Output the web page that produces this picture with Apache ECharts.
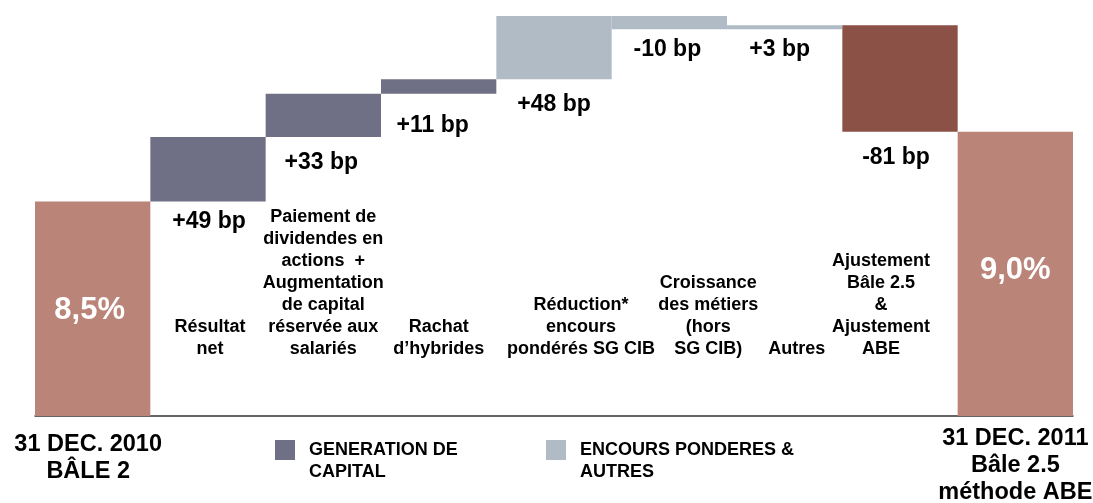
<!DOCTYPE html>
<html><head><meta charset="utf-8">
<script src="https://cdn.jsdelivr.net/npm/echarts@6/dist/echarts.min.js"></script>
<style>html,body{margin:0;padding:0;background:#fff}#c{width:1093px;height:503px}</style>
</head><body><div id="c"></div>
<script>
// ---- data ----
const categories = ['2010', 'resultat', 'dividendes', 'hybrides', 'reduction', 'croissance', 'autres', 'ajustement', '2011'];
const descriptions = ['', 'Résultat\nnet', 'Paiement de\ndividendes en\nactions  +\nAugmentation\nde capital\nréservée aux\nsalariés', 'Rachat\nd’hybrides', 'Réduction*\nencours\npondérés SG CIB', 'Croissance\ndes métiers\n(hors\nSG CIB)', 'Autres', 'Ajustement\nBâle 2.5\n&\nAjustement\nABE', ''];
const periodLabels = ['31 DEC. 2010\nBÂLE 2', '', '', '', '', '', '', '', '31 DEC. 2011\nBâle 2.5\nméthode ABE'];
const startValue = 8.5;                      // %
const deltasBp = [49, 33, 11, 48, -10, 3, -81]; // basis points
const deltaGroups = ['gen', 'gen', 'gen', 'enc', 'enc', 'enc', 'adj'];
const endpointLabels = ['8,5%', '9,0%'];
const legendNames = ['GENERATION DE\nCAPITAL', 'ENCOURS PONDERES &\nAUTRES'];

// ---- styles ----
const FONT = '"Liberation Sans", Arial, Helvetica, sans-serif';
const colors = { end: '#BA8479', gen: '#6F6F85', enc: '#B0BBC5', adj: '#8B5147' };
const bpLabelOffsets = [[1, -5.5], [-2, 0], [-6, 7], [0, 0], [-2, -5], [-5, -5], [-4, 0]];
const descShift = [0, 2, 0, 0, 27, 39, 12, -19, 0];

// ---- build waterfall ----
const cum = [startValue];
deltasBp.forEach(d => cum.push(+(cum[cum.length - 1] + d / 100).toFixed(4)));
const endValue = cum[cum.length - 1];
const n = categories.length;

const baseData = categories.map((c, i) => (i === 0 || i === n - 1) ? '-' : Math.min(cum[i - 1], cum[i]));
const endData = categories.map((c, i) => i === 0 ? startValue : (i === n - 1 ? endValue : '-'));

function groupData(g) {
  return categories.map((c, i) => {
    if (i === 0 || i === n - 1) return '-';
    const k = i - 1;
    if (deltaGroups[k] !== g) return '-';
    return { value: Math.abs(deltasBp[k]) / 100, label: { offset: bpLabelOffsets[k] } };
  });
}

const bpLabel = {
  show: true, position: 'bottom', distance: 14,
  fontFamily: FONT, fontWeight: 'bold', fontSize: 23, color: '#000',
  formatter: p => { const d = deltasBp[p.dataIndex - 1]; return (d > 0 ? '+' : '') + d + ' bp'; }
};

function deltaSeries(name, g) {
  return {
    name: name, type: 'bar', stack: 'w', barWidth: '100%', clip: true,
    itemStyle: { color: colors[g] }, label: bpLabel, data: groupData(g)
  };
}

const legendCommon = {
  orient: 'horizontal', padding: 0, itemWidth: 20, itemHeight: 20, icon: 'rect',
  selectedMode: false, top: 417,
  formatter: name => '\n' + name,
  textStyle: { fontFamily: FONT, fontWeight: 'bold', fontSize: 18, color: '#000', lineHeight: 22, padding: [0, 0, 0, 9] }
};

const option = {
  animation: false,
  backgroundColor: '#fff',
  grid: [
    { left: 35, right: 20, top: 16, bottom: 87, outerBoundsMode: 'none', containLabel: false },
    { left: 35, right: 20, top: 360, bottom: 142, outerBoundsMode: 'none', containLabel: false }
  ],
  legend: [
    Object.assign({}, legendCommon, { left: 275, data: [legendNames[0]] }),
    Object.assign({}, legendCommon, { left: 546, data: [legendNames[1]] })
  ],
  xAxis: [
    {
      type: 'category', gridIndex: 0,
      data: categories.map((c, i) => i === 0 ? { value: c, textStyle: { padding: [6, 9, 0, 0] } } : c),
      axisLine: { show: true, onZero: false, lineStyle: { color: '#333', width: 1.5 } },
      axisTick: { show: false },
      axisLabel: {
        interval: 0, margin: 9.5, fontFamily: FONT, fontWeight: 'bold', fontSize: 23.5, lineHeight: 27, color: '#000',
        formatter: (v, i) => periodLabels[i]
      }
    },
    {
      type: 'category', gridIndex: 1, position: 'top',
      data: categories.map((c, i) => {
        const s = descShift[i];
        const pad = s >= 0 ? [0, 0, 0, 2 * s] : [0, -2 * s, 0, 0];
        return { value: c, textStyle: { padding: pad } };
      }),
      axisLine: { show: false }, axisTick: { show: false },
      axisLabel: {
        interval: 0, margin: 0, fontFamily: FONT, fontWeight: 'bold', fontSize: 18, lineHeight: 22, color: '#000',
        formatter: (v, i) => descriptions[i]
      }
    }
  ],
  yAxis: [
    { type: 'value', gridIndex: 0, min: 6.87, max: 9.91, show: false, splitLine: { show: false } },
    { type: 'value', gridIndex: 1, show: false }
  ],
  series: [
    {
      name: 'base', type: 'bar', stack: 'w', barWidth: '100%', clip: true, silent: true,
      itemStyle: { color: 'rgba(0,0,0,0)' }, data: baseData
    },
    {
      name: 'end', type: 'bar', stack: 'w', barWidth: '100%', clip: true,
      itemStyle: { color: colors.end },
      label: {
        show: true, position: 'inside', fontFamily: FONT, fontWeight: 'bold', fontSize: 31, color: '#fff',
        formatter: p => p.dataIndex === 0 ? endpointLabels[0] : endpointLabels[1]
      },
      data: endData.map((v, i) => i === 0 ? { value: v, label: { offset: [-3, 2] } } : (i === n - 1 ? { value: v, label: { offset: [0, -3] } } : v))
    },
    deltaSeries(legendNames[0], 'gen'),
    deltaSeries(legendNames[1], 'enc'),
    deltaSeries('adj', 'adj')
  ]
};

const chart = echarts.init(document.getElementById('c'), null, { renderer: 'canvas' });
chart.setOption(option);
</script>
</body></html>
